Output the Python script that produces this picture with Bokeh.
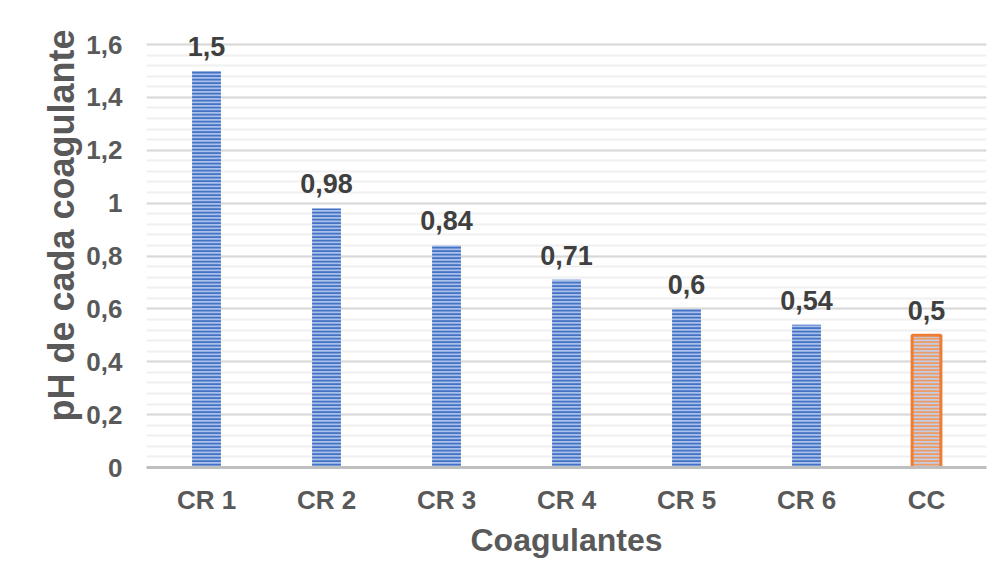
from bokeh.plotting import figure
from bokeh.models import ColumnDataSource, Range1d, FixedTicker, LabelSet, Title
from bokeh.core.properties import value
from bokeh.embed import file_html
from bokeh.resources import INLINE

categories = ["CR 1", "CR 2", "CR 3", "CR 4", "CR 5", "CR 6", "CC"]
values = [1.5, 0.98, 0.84, 0.71, 0.6, 0.54, 0.5]
value_labels = ["1,5", "0,98", "0,84", "0,71", "0,6", "0,54", "0,5"]
y_ticks = [0, 0.2, 0.4, 0.6, 0.8, 1.0, 1.2, 1.4, 1.6]
y_tick_labels = ["0", "0,2", "0,4", "0,6", "0,8", "1", "1,2", "1,4", "1,6"]
y_minor = [round(i * 0.04, 2) for i in range(41)]

FONT = "Liberation Sans"
GREY = "#595959"

# frame extends above the top tick (1.6) so the value labels are not clipped
PX_PER_UNIT = 423 / 1.6
FRAME_H = 459
Y_END = FRAME_H / PX_PER_UNIT

p = figure(x_range=categories, y_range=Range1d(0, Y_END),
           frame_width=840, frame_height=FRAME_H,
           min_border_left=146, min_border_right=4, min_border_top=8, min_border_bottom=101,
           output_backend="svg", toolbar_location=None, outline_line_color=None,
           background_fill_color="white", border_fill_color="white")

blue_src = ColumnDataSource(dict(x=categories[:-1], top=values[:-1]))
cc_src = ColumnDataSource(dict(x=categories[-1:], top=values[-1:]))
lab_src = ColumnDataSource(dict(x=categories, y=values, t=value_labels))

p.vbar(x="x", top="top", width=0.24, source=blue_src,
       fill_color="#A9C0EA", line_color=None,
       hatch_pattern="horizontal_line", hatch_color="#4472C4",
       hatch_scale=3.5, hatch_weight=2)
p.vbar(x="x", top="top", width=0.24, source=cc_src,
       fill_color="#C3CDE6", line_color="#ED7D31", line_width=3,
       hatch_pattern="horizontal_line", hatch_color="#EE9A62",
       hatch_scale=3.5, hatch_weight=2)

p.add_layout(LabelSet(x="x", y="y", text="t", source=lab_src, text_align="center",
                      text_baseline="bottom", y_offset=15,
                      text_font=value(FONT), text_font_style="bold",
                      text_font_size="27px", text_color="#404040"))

# y axis title
p.add_layout(Title(text="pH de cada coagulante", align="left", offset=46,
                   text_font=FONT, text_font_style="bold",
                   text_font_size="36px", text_color=GREY, standoff=3), "left")

# y axis
p.yaxis.ticker = FixedTicker(ticks=y_ticks, minor_ticks=y_minor)
p.yaxis.major_label_overrides = dict(zip(y_ticks, y_tick_labels))
p.yaxis.axis_line_color = None
p.yaxis.major_tick_line_color = None
p.yaxis.minor_tick_line_color = None
p.yaxis.major_label_standoff = 18
p.yaxis.major_label_text_font = FONT
p.yaxis.major_label_text_font_style = "bold"
p.yaxis.major_label_text_font_size = "26px"
p.yaxis.major_label_text_color = GREY

# x axis
p.xaxis.axis_line_color = "#BFBFBF"
p.xaxis.axis_line_width = 3
p.xaxis.major_tick_line_color = None
p.xaxis.minor_tick_line_color = None
p.xaxis.major_label_standoff = 11
p.xaxis.major_label_text_font = FONT
p.xaxis.major_label_text_font_style = "bold"
p.xaxis.major_label_text_font_size = "26px"
p.xaxis.major_label_text_color = GREY
p.xaxis.axis_label = "Coagulantes"
p.xaxis.axis_label_text_font = FONT
p.xaxis.axis_label_text_font_style = "bold"
p.xaxis.axis_label_text_font_size = "32px"
p.xaxis.axis_label_text_color = GREY
p.xaxis.axis_label_standoff = 4

# grid
p.xgrid.grid_line_color = None
p.ygrid.grid_line_color = "#D9D9D9"
p.ygrid.grid_line_width = 2
p.ygrid.minor_grid_line_color = "#F0F0F0"
p.ygrid.minor_grid_line_width = 2

open("out.html", "w").write(file_html(p, INLINE))
